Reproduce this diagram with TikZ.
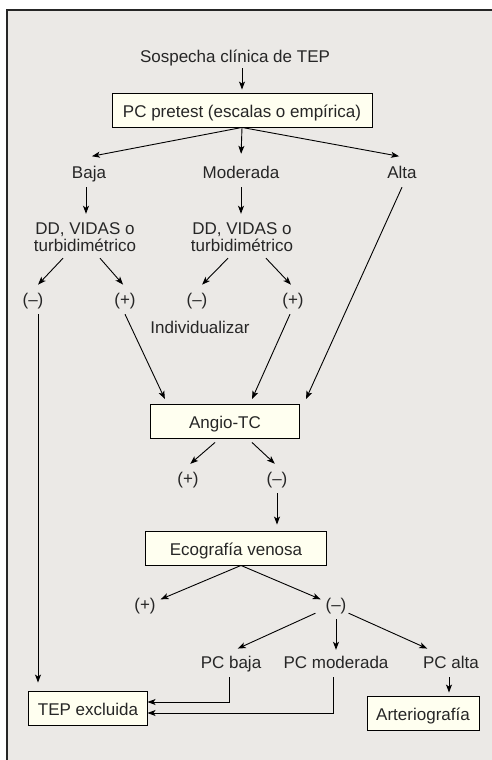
\documentclass[tikz,border=0pt]{standalone}
\usepackage{fontspec}
\setmainfont{Liberation Sans}
\usetikzlibrary{arrows.meta}
\definecolor{panelgrey}{HTML}{EBE9E6}
\definecolor{boxfill}{HTML}{FFFFF0}
\tikzset{
  lbl/.style={inner xsep=2pt, inner ysep=6pt, text height=12pt, text depth=3pt},
  lbltwo/.style={inner xsep=2pt, inner ysep=6pt, align=center},
  stepbox/.style={draw=black, fill=boxfill, line width=0.9pt, minimum height=34pt,
    inner xsep=9pt, text height=14pt, text depth=0pt},
  arr/.style={-{Stealth[length=8pt,width=6pt,inset=2pt]}, line width=0.9pt, shorten >=3pt},
}
\begin{document}
\begin{tikzpicture}[x=1pt, y=-1pt, font=\fontsize{17}{17}\selectfont, text=black!85]
    \useasboundingbox (0,0) rectangle (492,760);
    \fill[panelgrey] (7,10) rectangle (492,760);
    \draw[line width=1.4pt, black!85] (7,760) -- (7,10) -- (492,10);

    % boxes
    \node[stepbox, minimum width=260pt] (pretest) at (242,110) {PC pretest (escalas o empírica)};
    \node[stepbox, minimum width=149pt] (angio) at (225,421) {Angio-TC};
    \node[stepbox, minimum width=181pt] (eco) at (236,548) {Ecografía venosa};
    \node[stepbox, minimum width=118pt] (excl) at (88,708) {TEP excluida};
    \node[stepbox, minimum width=112pt] (arter) at (423,713) {Arteriografía};

    % plain labels
    \node[lbl, inner ysep=2pt] (susp) at (235,58.5) {Sospecha clínica de TEP};
    \node[lbltwo] (dda) at (85,237.5) {DD, VIDAS o\\turbidimétrico};
    \node[lbltwo] (ddb) at (242,237.5) {DD, VIDAS o\\turbidimétrico};
    \foreach \n/\x/\y/\t in {baja/89/173.5/Baja, mod/241/173.5/Moderada, alta/402/173.5/Alta,
        nega/33/300.5/(–), posa/125/300.5/(+), negb/197/300.5/(–), posb/293/300.5/(+),
        indiv/200/328.5/Individualizar, posc/188/479.5/(+), negc/277/479.5/(–),
        posd/145/605.5/(+), negd/336/605.5/(–),
        pcb/231/663.5/PC baja, pcm/336/663.5/PC moderada, pca/451/663.5/PC alta}
        \node[lbl] (\n) at (\x,\y) {\t};

    \draw[arr] (susp.south -| pretest.north) -- (pretest.north);
    \foreach \n in {baja, mod, alta}
        \draw[arr] (pretest.south) -- ([yshift=3pt]\n.north);
    \draw[arr] ([xshift=-3pt]baja.south) -- ([xshift=-3pt]baja.south |- dda.north);
    \draw[arr] (mod.south) -- (mod.south |- ddb.north);
    \draw[arr] ([xshift=-22pt]dda.south) -- ([xshift=3pt]nega.north);
    \draw[arr] ([xshift=15pt]dda.south) -- (posa.north);
    \draw[arr] ([xshift=-14pt]ddb.south) -- ([xshift=3pt]negb.north);
    \draw[arr] ([xshift=24pt]ddb.south) -- (posb.north);
    \draw[arr, shorten >=8pt] ([xshift=5pt]nega.south) -- ([xshift=5pt]nega.south |- excl.north);
    \draw[arr, shorten >=5pt] (posa.south) -- ([xshift=-58pt]angio.north);
    \draw[arr, shorten >=5pt] ([xshift=-3pt]posb.south) -- ([xshift=25pt]angio.north);
    \draw[arr, shorten >=5pt] (alta.south) -- ([xshift=4pt]angio.north east);
    \draw[arr] ([xshift=-10pt,yshift=-4pt]angio.south) -- (posc.north);
    \draw[arr] ([xshift=27pt,yshift=-4pt]angio.south) -- (negc.north);
    \draw[arr, shorten >=6pt] (negc.south) -- (negc.south |- eco.north);
    \draw[arr] ([xshift=5pt]eco.south) -- ([yshift=5pt]posd.east);
    \draw[arr] ([xshift=5pt]eco.south) -- ([yshift=5pt]negd.west);
    \draw[arr] ([xshift=-8pt,yshift=6pt]negd.south west) -- ([xshift=4pt]pcb.north);
    \draw[arr, shorten >=0pt] (negd.south) -- (pcm.north);
    \draw[arr] ([yshift=6pt]negd.south east) -- ([xshift=-21pt]pca.north);
    \draw[arr] ([xshift=-2pt]pca.south) -- ([xshift=-2pt]pca.south |- arter.north);
    % both join the box from the right
    \draw[arr, shorten >=0pt] ([xshift=-2pt]pcb.south) |- ([yshift=6pt]excl.east);
    \draw[arr, shorten >=0pt] ([xshift=-3pt]pcm.south) |- ([yshift=-5pt]excl.east);
\end{tikzpicture}
\end{document}
